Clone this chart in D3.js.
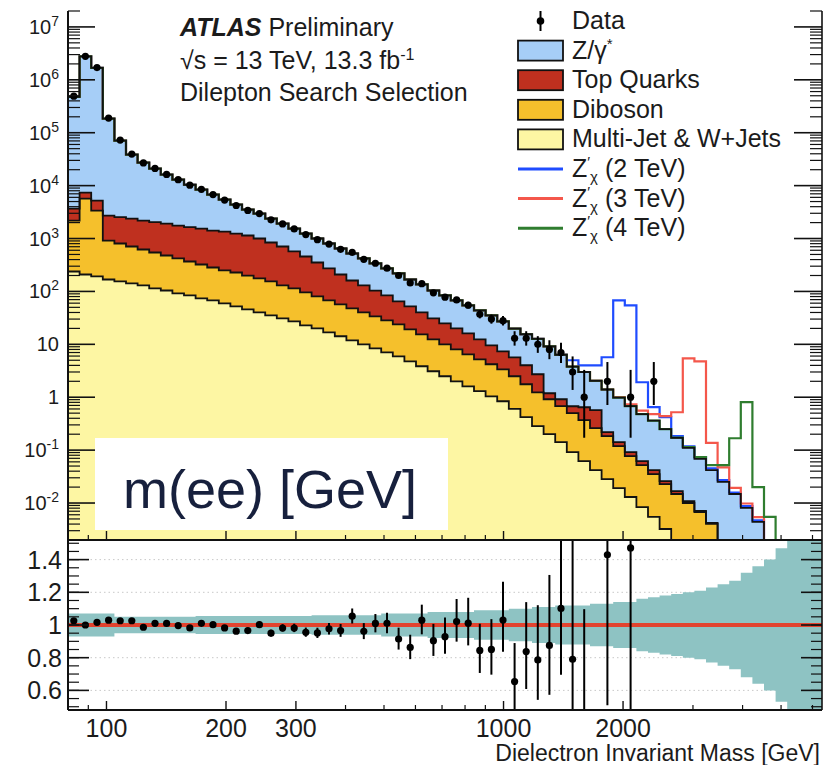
<!DOCTYPE html>
<html>
<head>
<meta charset="utf-8">
<script src="https://cdn.jsdelivr.net/npm/d3@7"></script>
<style>
  html, body { margin: 0; padding: 0; background: #fff; }
  svg { display: block; }
  text { font-family: "Liberation Sans", Arial, Helvetica, sans-serif; fill: #1b1b1b; }
</style>
</head>
<body>
<svg id="chart" width="838" height="765"></svg>
<script>
// ---- Binning: logarithmic bins in dielectron invariant mass (GeV) ----
const massLow = 80, massHigh = 6340, nBins = 65;

// Observed events per bin
const dataCounts = [
  490400, 2780000, 1707000, 189500, 72540, 39500, 26820, 21110, 16260, 12950,
  10210, 8494, 6784, 5342, 4214, 3400, 2966, 2261, 1885, 1517,
  1185, 952, 786, 626, 549, 404, 341, 275, 200, 145,
  140, 94, 78, 69, 55, 37, 30, 28, 13, 13,
  10, 8, 7, 3, 1, 0, 2, 0, 1, 0,
  2, 0, 0, 0, 0, 0, 0, 0, 0, 0,
  0, 0, 0, 0, 0
];

// Background expectations per bin (stacked bottom to top)
const multiJet = [
  238, 209, 192, 168, 155, 142, 130, 114, 104, 91.7,
  84.1, 73.8, 67.6, 59.4, 52.1, 45.7, 40.2, 35.3, 31.0, 27.2,
  22.8, 20.0, 16.8, 14.2, 11.9, 10.0, 8.41, 7.07, 5.94, 4.78,
  3.85, 3.10, 2.49, 2.00, 1.61, 1.30, 1.04, 0.84, 0.60, 0.42,
  0.284, 0.200, 0.142, 0.0917, 0.062, 0.042, 0.0284, 0.0192, 0.0130, 0.0084,
  0.00545, 0.00323, 0, 0, 0, 0, 0, 0, 0, 0,
  0, 0, 0, 0, 0
];
const diboson = [
  1950, 5481, 3181, 748, 650, 564, 490, 430, 374, 328,
  284, 249, 216, 190, 176, 154, 136, 120, 99, 87,
  73, 60.5, 50.8, 42.7, 35.9, 30.2, 25.4, 21.3, 17.9, 14.4,
  11.6, 9.3, 7.5, 6.05, 4.86, 3.91, 3.16, 2.53, 1.89, 1.34,
  0.956, 0.716, 0.534, 0.407, 0.306, 0.218, 0.156, 0.0998, 0.064, 0.0437,
  0.0298, 0.0196, 0.0148, 0.0100, 0.00676, 0.00402, 0, 0, 0, 0,
  0, 0, 0, 0, 0
];
const topQuarks = [
  1493, 1689, 1839, 1800, 1741, 1677, 1568, 1503, 1442, 1338,
  1280, 1222, 1132, 1106, 1014, 940, 824, 686, 576, 455,
  361, 272, 204, 152, 113, 90, 70, 55.7, 40.9, 32.9,
  24.7, 18.6, 14.9, 11.95, 9.63, 7.19, 5.37, 4.01, 3.20, 2.26,
  1.48, 0.274, 0.240, 0.177, 0.279, 0.309, 0.035, 0.023, 0.0147, 0.0099,
  0.0068, 0.0032, 0.002, 0.0009, 0.0003, 0.0002, 0, 0, 0, 0,
  0, 0, 0, 0, 0
];
const drellYan = [
  474300, 2772600, 1674800, 181300, 68150, 36120, 25010, 18850, 14180, 11240,
  8750, 6865, 5354, 4085, 3138, 2380, 1960, 1539, 1214, 976,
  783, 648, 533, 439, 360, 290, 234, 188, 154, 116,
  95.8, 73, 59.1, 47.6, 38.3, 31.4, 25.7, 19.8, 14.2, 11.5,
  10.0, 7.95, 5.44, 3.12, 2.35, 1.48, 1.18, 0.838, 0.588, 0.418,
  0.318, 0.224, 0.153, 0.099, 0.061, 0.0378, 0.025, 0.0148, 0.0081, 0.0044,
  0, 0, 0, 0, 0
];

// Z'_chi signal yields per bin (drawn on top of the total background)
const zprime2TeV = [
  0, 0, 0, 0, 0, 0, 0, 0, 0, 0,
  0, 0, 0, 0, 0, 0, 0, 0, 0, 0,
  0, 0, 0, 0, 0, 0, 0, 0, 0, 0,
  0, 0, 0, 0, 0, 0, 0, 0, 0, 0,
  0, 0, 0, 1.2, 1.0, 1.95, 4.3, 66.6, 53.8, 1.44,
  0.29, 0.17, 0.015, 0.008, 0.005, 0.003, 0.002, 0.001, 0.0006, 0.0003,
  0, 0, 0, 0, 0
];
const zprime3TeV = [
  0, 0, 0, 0, 0, 0, 0, 0, 0, 0,
  0, 0, 0, 0, 0, 0, 0, 0, 0, 0,
  0, 0, 0, 0, 0, 0, 0, 0, 0, 0,
  0, 0, 0, 0, 0, 0, 0, 0, 0, 0,
  0, 0, 0, 0, 0, 0, 0, 0.03, 0.05, 0.08,
  0.12, 0.19, 0.35, 5.3, 4.7, 0.095, 0.022, 0.0045, 0.0017, 0.001,
  0, 0, 0, 0, 0
];
const zprime4TeV = [
  0, 0, 0, 0, 0, 0, 0, 0, 0, 0,
  0, 0, 0, 0, 0, 0, 0, 0, 0, 0,
  0, 0, 0, 0, 0, 0, 0, 0, 0, 0,
  0, 0, 0, 0, 0, 0, 0, 0, 0, 0,
  0, 0, 0, 0, 0, 0, 0, 0, 0, 0,
  0, 0, 0.003, 0.004, 0.006, 0.010, 0.027, 0.153, 0.797, 0.0156,
  0.00545, 0, 0, 0, 0
];

// Relative systematic uncertainty on the background (ratio band half-width)
const systUnc = [
  0.07, 0.07, 0.07, 0.07, 0.05, 0.05, 0.05, 0.05, 0.05, 0.05,
  0.05, 0.055, 0.055, 0.055, 0.055, 0.055, 0.055, 0.055, 0.055, 0.055,
  0.055, 0.06, 0.06, 0.06, 0.06, 0.06, 0.06, 0.07, 0.07, 0.07,
  0.07, 0.08, 0.08, 0.08, 0.08, 0.09, 0.09, 0.09, 0.10, 0.10,
  0.11, 0.11, 0.12, 0.12, 0.12, 0.13, 0.13, 0.14, 0.14, 0.16,
  0.17, 0.18, 0.19, 0.20, 0.21, 0.23, 0.25, 0.27, 0.32, 0.36,
  0.40, 0.47, 0.60, 0.60, 0.60
];

// Axis ticks
const xMajorTicks = [100, 200, 300, 1000, 2000];
const xMinorTicks = [90, 400, 500, 600, 700, 800, 900, 3000, 4000, 5000, 6000];
const yDecades = [1e-2, 1e-1, 1, 10, 1e2, 1e3, 1e4, 1e5, 1e6, 1e7];
const ratioTicks = [0.6, 0.8, 1.0, 1.2, 1.4];

// Colours
const colMJ = "#fdf6a3", colDB = "#f5c02c", colTop = "#bf301f", colDY = "#a6cef7";
const colZ2 = "#1f4cff", colZ3 = "#f4574b", colZ4 = "#2f7d2f";
const colBand = "#8ec3c3", colUnity = "#e2432f";

// ---- Geometry ----
const L = 68, R = 822, mainTop = 11, mainBot = 540, ratBot = 710;
const svg = d3.select("#chart");

const edges = d3.range(nBins + 1).map(i => massLow * Math.pow(massHigh / massLow, i / nBins));
const x = d3.scaleLog().domain([massLow, massHigh]).range([L, R]);
const y = d3.scaleLog().domain([0.002, 2e7]).range([mainBot, mainTop]);
const yr = d3.scaleLinear().domain([0.48, 1.52]).range([ratBot, mainBot]);
const centre = i => x(Math.sqrt(edges[i] * edges[i + 1]));

// stacked backgrounds
const rows = d3.range(nBins).map(i => ({ mj: multiJet[i], db: diboson[i], top: topQuarks[i], dy: drellYan[i] }));
const stacked = d3.stack().keys(["mj", "db", "top", "dy"])(rows);
const cumulative = stacked.map(layer => layer.map(d => d[1]));
const totalBkg = cumulative[3];

// clip regions
const defs = svg.append("defs");
defs.append("clipPath").attr("id", "clipMain").append("rect")
  .attr("x", L).attr("y", mainTop).attr("width", R - L).attr("height", mainBot - mainTop);
defs.append("clipPath").attr("id", "clipRatio").append("rect")
  .attr("x", L).attr("y", mainBot).attr("width", R - L).attr("height", ratBot - mainBot);

const FLOOR = mainBot + 40;
function yv(v) { return v > 0 ? y(v) : FLOOR; }

// step outline across all bins
function stepOutline(vals) {
  let p = `M${x(edges[0])},${yv(vals[0])}`;
  for (let i = 0; i < nBins; i++) {
    const yy = yv(vals[i]);
    p += `L${x(edges[i])},${yy}L${x(edges[i + 1])},${yy}`;
  }
  return p;
}
function stepFill(vals) {
  let p = `M${x(edges[0])},${FLOOR}`;
  for (let i = 0; i < nBins; i++) {
    const yy = yv(vals[i]);
    p += `L${x(edges[i])},${yy}L${x(edges[i + 1])},${yy}`;
  }
  return p + `L${x(edges[nBins])},${FLOOR}Z`;
}

// ---- Main panel ----
const main = svg.append("g").attr("clip-path", "url(#clipMain)");
const layerColours = [colMJ, colDB, colTop, colDY];

// fills: largest cumulative first
for (let k = 3; k >= 0; k--) {
  main.append("path").attr("d", stepFill(cumulative[k])).attr("fill", layerColours[k]).attr("stroke", "none");
}

// signal hypotheses: background + signal
[[zprime2TeV, colZ2], [zprime3TeV, colZ3], [zprime4TeV, colZ4]].forEach(([sig, col]) => {
  const tot = totalBkg.map((b, i) => b + sig[i]);
  main.append("path").attr("d", stepOutline(tot) + `L${x(edges[nBins])},${FLOOR}`)
    .attr("fill", "none").attr("stroke", col).attr("stroke-width", 2.2);
});

// black outlines of the stacked histograms
for (let k = 3; k >= 0; k--) {
  main.append("path").attr("d", stepOutline(cumulative[k]) + `L${x(edges[nBins])},${FLOOR}`)
    .attr("fill", "none").attr("stroke", "#111").attr("stroke-width", 1.8);
}

// Poisson 68% interval (Wilson-Hilferty approximation)
function poisson(n) {
  const lo = n * Math.pow(1 - 1 / (9 * n) - 1 / (3 * Math.sqrt(n)), 3);
  const m = n + 1;
  const hi = m * Math.pow(1 - 1 / (9 * m) + 1 / (3 * Math.sqrt(m)), 3);
  return [lo, hi];
}

// data points
const dataBins = d3.range(nBins).filter(i => dataCounts[i] > 0);
const gData = main.append("g");
dataBins.forEach(i => {
  const n = dataCounts[i];
  const [lo, hi] = poisson(n);
  gData.append("line").attr("x1", centre(i)).attr("x2", centre(i))
    .attr("y1", y(hi)).attr("y2", y(lo)).attr("stroke", "#000").attr("stroke-width", 2);
  gData.append("circle").attr("cx", centre(i)).attr("cy", y(n)).attr("r", 3.6).attr("fill", "#000");
});

// label box
svg.append("rect").attr("x", 95).attr("y", 438).attr("width", 353).attr("height", 92).attr("fill", "#fff");
svg.append("text").attr("x", 123).attr("y", 508).attr("font-size", 54).style("fill", "#17203d")
  .text("m(ee) [GeV]");

// ---- Ratio panel ----
const ratio = svg.append("g").attr("clip-path", "url(#clipRatio)");
[0.6, 0.8, 1.2, 1.4].forEach(v => {
  ratio.append("line").attr("x1", L).attr("x2", R).attr("y1", yr(v)).attr("y2", yr(v))
    .attr("stroke", "#c8c8c8").attr("stroke-width", 1).attr("stroke-dasharray", "1.5,3");
});
// uncertainty band
let band = `M${x(edges[0])},${yr(1 + systUnc[0])}`;
for (let i = 0; i < nBins; i++) band += `L${x(edges[i])},${yr(1 + systUnc[i])}L${x(edges[i + 1])},${yr(1 + systUnc[i])}`;
for (let i = nBins - 1; i >= 0; i--) band += `L${x(edges[i + 1])},${yr(1 - systUnc[i])}L${x(edges[i])},${yr(1 - systUnc[i])}`;
ratio.append("path").attr("d", band + "Z").attr("fill", colBand);
ratio.append("line").attr("x1", L).attr("x2", R).attr("y1", yr(1)).attr("y2", yr(1))
  .attr("stroke", colUnity).attr("stroke-width", 4);

const rTop = yr.domain()[1], rBot = yr.domain()[0];
dataBins.forEach(i => {
  if (!(totalBkg[i] > 0)) return;
  const n = dataCounts[i], b = totalBkg[i];
  const r = n / b;
  if (r > rTop) return;
  const [lo, hi] = poisson(n);
  ratio.append("line").attr("x1", centre(i)).attr("x2", centre(i))
    .attr("y1", yr(hi / b)).attr("y2", yr(lo / b)).attr("stroke", "#000").attr("stroke-width", 2);
  if (r >= rBot) ratio.append("circle").attr("cx", centre(i)).attr("cy", yr(r)).attr("r", 3.6).attr("fill", "#000");
});

// ---- Axes ----
const axes = svg.append("g").attr("stroke", "#111");
function vline(xx, y1, y2, w) { axes.append("line").attr("x1", xx).attr("x2", xx).attr("y1", y1).attr("y2", y2).attr("stroke-width", w); }
function hline(yy, x1, x2, w) { axes.append("line").attr("x1", x1).attr("x2", x2).attr("y1", yy).attr("y2", yy).attr("stroke-width", w); }

// frame lines
vline(L, mainTop, ratBot, 2);
vline(R, mainTop, ratBot, 1.6);
hline(mainBot, L, R, 2);
hline(ratBot, L, R, 2);

// main y ticks (log)
const yMinor = [];
for (let e = -3; e <= 7; e++) for (let k = 2; k <= 9; k++) {
  const v = k * Math.pow(10, e);
  if (v >= 0.002 && v <= 2e7) yMinor.push(v);
}
yMinor.forEach(v => { hline(y(v), L, L + 12, 1.2); hline(y(v), R - 12, R, 1.2); });
yDecades.forEach(v => { hline(y(v), L, L + 27, 1.6); hline(y(v), R - 28, R, 1.6); });

// ratio y ticks
d3.range(0.5, 1.5001, 0.05).forEach(v => { hline(yr(v), L, L + 11, 1.2); hline(yr(v), R - 11, R, 1.2); });
ratioTicks.forEach(v => { hline(yr(v), L, L + 21, 1.6); hline(yr(v), R - 21, R, 1.6); });

// x ticks on both panels
[mainBot, ratBot].forEach(base => {
  xMajorTicks.forEach(v => vline(x(v), base, base - 9, 1.4));
  xMinorTicks.forEach(v => vline(x(v), base, base - 5, 1.2));
});

// main y labels
yDecades.forEach(v => {
  const e = Math.round(Math.log10(v));
  const t = svg.append("text").attr("x", 59).attr("y", y(v) + 7).attr("text-anchor", "end").attr("font-size", 20);
  if (e === 0) t.text("1");
  else if (e === 1) t.text("10");
  else {
    t.append("tspan").text("10");
    t.append("tspan").attr("dy", -8).attr("font-size", 14).text(e < 0 ? "-" + (-e) : e);
  }
});

// ratio y labels
ratioTicks.forEach(v => {
  svg.append("text").attr("x", 62).attr("y", yr(v) + 9).attr("text-anchor", "end").attr("font-size", 25)
    .text(v === 1 ? "1" : v.toFixed(1));
});

// x labels and title
xMajorTicks.forEach(v => {
  svg.append("text").attr("x", x(v)).attr("y", 737).attr("text-anchor", "middle").attr("font-size", 25).text(v);
});
svg.append("text").attr("x", 820).attr("y", 761).attr("text-anchor", "end").attr("font-size", 23)
  .text("Dielectron Invariant Mass [GeV]");

// ---- ATLAS label ----
const atl = svg.append("text").attr("x", 180).attr("y", 36).attr("font-size", 25);
atl.append("tspan").attr("font-weight", "bold").attr("font-style", "italic").text("ATLAS");
atl.append("tspan").text(" Preliminary");
const ecm = svg.append("text").attr("x", 180).attr("y", 69).attr("font-size", 25);
ecm.append("tspan").text("\u221As = 13 TeV, 13.3 fb");
ecm.append("tspan").attr("dy", -9).attr("font-size", 16).text("-1");
svg.append("text").attr("x", 180).attr("y", 101).attr("font-size", 25).text("Dilepton Search Selection");

// ---- Legend ----
const legendRows = [
  { kind: "data", parts: [["Data"]] },
  { kind: "box", fill: colDY, parts: [["Z/\u03B3"], ["*", "sup"]] },
  { kind: "box", fill: colTop, parts: [["Top Quarks"]] },
  { kind: "box", fill: colDB, parts: [["Diboson"]] },
  { kind: "box", fill: colMJ, parts: [["Multi-Jet & W+Jets"]] },
  { kind: "line", stroke: colZ2, parts: [["Z"], ["\u2032", "sup"], ["\u03C7", "sub"], [" (2 TeV)"]] },
  { kind: "line", stroke: colZ3, parts: [["Z"], ["\u2032", "sup"], ["\u03C7", "sub"], [" (3 TeV)"]] },
  { kind: "line", stroke: colZ4, parts: [["Z"], ["\u2032", "sup"], ["\u03C7", "sub"], [" (4 TeV)"]] }
];
const lgX = 518, lgW = 45, lgTextX = 572;
legendRows.forEach((row, k) => {
  const cy = 21 + 29.6 * k;
  if (row.kind === "data") {
    svg.append("line").attr("x1", lgX + lgW / 2).attr("x2", lgX + lgW / 2).attr("y1", cy - 10).attr("y2", cy + 10)
      .attr("stroke", "#000").attr("stroke-width", 2);
    svg.append("circle").attr("cx", lgX + lgW / 2).attr("cy", cy).attr("r", 3.8).attr("fill", "#000");
  } else if (row.kind === "box") {
    svg.append("rect").attr("x", lgX).attr("y", cy - 10).attr("width", lgW).attr("height", 20)
      .attr("fill", row.fill).attr("stroke", "#111").attr("stroke-width", 1.8);
  } else {
    svg.append("line").attr("x1", lgX).attr("x2", lgX + lgW).attr("y1", cy).attr("y2", cy)
      .attr("stroke", row.stroke).attr("stroke-width", 3);
  }
  const t = svg.append("text").attr("x", lgTextX).attr("y", cy + 8).attr("font-size", 25);
  let off = 0;
  row.parts.forEach(([s, style]) => {
    const target = style === "sup" ? -10 : style === "sub" ? 5 : 0;
    const ts = t.append("tspan").attr("dy", target - off).text(s);
    if (style === "sup" || style === "sub") ts.attr("font-size", 15);
    off = target;
  });
});
</script>
</body>
</html>
